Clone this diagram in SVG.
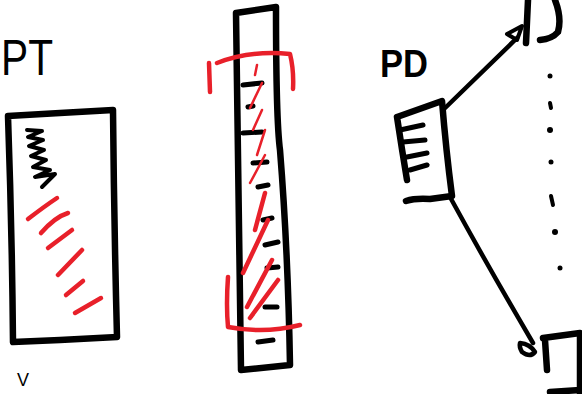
<svg xmlns="http://www.w3.org/2000/svg" width="582" height="394" viewBox="0 0 582 394">
<style>
.k{fill:none;stroke:#000;stroke-linecap:round;stroke-linejoin:round}
.r{fill:none;stroke:#e8202a;stroke-linecap:round;stroke-linejoin:round}
.box{stroke-width:6.5}
.tk{stroke-width:5}
.rl{stroke-width:4.5}
.rt{stroke-width:2.5}
.lbl{font-family:"Liberation Sans",Arial,sans-serif;fill:#000}
</style>
<rect width="582" height="394" fill="#fff"/>
<g id="pt-node">
  <text class="lbl" x="1" y="75" font-size="50" textLength="52" lengthAdjust="spacingAndGlyphs">PT</text>
  <path class="k box" d="M8,116 L60,113 L113,110 Q114,220 117,337 L60,340 L13,342 Q12,230 8,116 Z"/>
  <path class="k" stroke-width="4" d="M27,130 L42,131 L28,137 L43,140 L29,146 L44,150 L31,156 L46,160 L33,167 L50,170 L35,177 L55,174 L42,187"/>
  <g class="r rl">
    <path d="M28,219 Q45,206 57,198"/>
    <path d="M41,233 Q55,217 68,213"/>
    <path d="M48,248 L72,230"/>
    <path d="M58,275 L82,250"/>
    <path d="M66,295 L83,281"/>
    <path d="M75,313 L101,298"/>
  </g>
  <text class="lbl" x="17" y="386" font-size="18">V</text>
</g>
<g id="stack-node">
  <path class="k box" d="M236,13 L276,7 Q276,120 280,150 Q288,250 290,365 L241,370 Q238,200 236,13 Z"/>
  <g class="k tk">
    <path d="M243,85 L262,83"/>
    <path d="M248,107 L253,106"/>
    <path d="M243,133 L262,132"/>
    <path d="M253,163 L267,162"/>
    <path d="M258,187 L268,185"/>
    <path d="M263,220 L272,218"/>
    <path d="M265,245 L278,242"/>
    <path d="M267,268 L278,267"/>
    <path d="M265,307 L277,307"/>
    <path d="M258,342 L273,340"/>
  </g>
  <g class="r rl">
    <path d="M217,63 Q250,50 290,54 Q294,70 293,89"/>
    <path d="M209,63 L210,92"/>
    <path d="M228,277 Q226,305 228,327 Q265,334 300,325"/>
  </g>
  <g class="r rt">
    <path d="M257,65 L255,75"/>
    <path d="M262,83 L250,108"/>
    <path d="M262,110 L253,130"/>
    <path d="M265,130 L257,155"/>
    <path d="M265,155 L250,183"/>
  </g>
  <g class="r rl">
    <path d="M265,193 L255,230"/>
    <path d="M268,220 L243,273"/>
    <path d="M272,260 L247,307"/>
    <path d="M278,280 L250,318"/>
  </g>
</g>
<g id="pd-node">
  <text class="lbl" x="380" y="77" font-size="38" font-weight="bold" textLength="48" lengthAdjust="spacingAndGlyphs">PD</text>
  <path class="k box" d="M397,117 L442,101 Q446,150 452,196 L430,199 Q415,198 406,201 M397,117 Q402,150 407,180"/>
  <g class="k tk">
    <path d="M400,130 L423,125"/>
    <path d="M403,142 L425,140"/>
    <path d="M407,157 L427,153"/>
    <path d="M410,170 L427,165"/>
  </g>
</g>
<g id="top-right-node">
  <path class="k box" d="M528,0 L526,43"/>
  <path class="k box" d="M555,0 Q562,18 558,32 Q552,39 540,40"/>
</g>
<g id="bottom-right-node">
  <path class="k box" d="M545,340 L547,370 M543,338 L580,333 L580,394 M550,392 L580,390"/>
</g>
<g id="dots" fill="#000">
  <circle cx="550" cy="76" r="2.5"/>
  <path class="k" stroke-width="4" d="M550,103 L551,108"/>
  <circle cx="550" cy="130" r="3"/>
  <circle cx="551" cy="162" r="2.5"/>
  <path class="k" stroke-width="4" d="M551,196 L553,205"/>
  <circle cx="555" cy="232" r="3"/>
  <circle cx="560" cy="268" r="2.5"/>
</g>
<g id="connectors">
  <path class="k" stroke-width="4.5" d="M443,110 L517,38"/>
  <path class="k" fill="#000" stroke-width="4" d="M507,34 L522,26 L517,40 Z"/>
  <path class="k" stroke-width="4.5" d="M450,197 Q490,270 533,343"/>
  <path class="k" stroke-width="4.5" d="M520,343 Q530,344 535,352 Q530,358 522,352 Q519,347 520,343 Z"/>
</g>
</svg>
